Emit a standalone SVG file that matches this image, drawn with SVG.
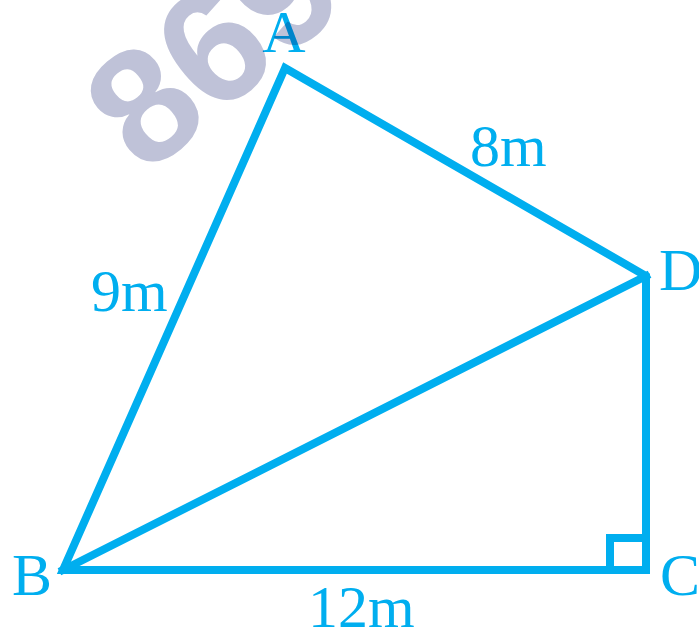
<svg xmlns="http://www.w3.org/2000/svg" width="699" height="630" viewBox="0 0 699 630">
<style>
.wm{font-family:"Liberation Sans",Arial,sans-serif;font-weight:bold;font-size:162px;fill:#BFC2D8}
.lbl{font-family:"Liberation Serif","Times New Roman",serif;font-size:60px;fill:#00AEEF}
.edge{fill:none;stroke:#00AEEF;stroke-width:8;stroke-linejoin:miter;stroke-linecap:square}
</style>
<rect width="699" height="630" fill="#ffffff"/>
<g id="watermark">
<text class="wm" x="249" y="90" text-anchor="middle" transform="rotate(-40 249 90)">869</text>
</g>
<g id="connectors">
<polygon class="edge" points="285,68 63,570 646,570 646,276"/>
<line class="edge" x1="63" y1="570" x2="646" y2="276" stroke-linecap="butt"/>
<polyline class="edge" points="610,570 610,538 646,538" stroke-linecap="butt"/>
</g>
<g id="node-A"><text class="lbl" x="284" y="52" text-anchor="middle" style="mix-blend-mode:multiply">A</text></g>
<g id="node-B"><text class="lbl" x="12" y="595">B</text></g>
<g id="node-C"><text class="lbl" x="660" y="595">C</text></g>
<g id="node-D"><text class="lbl" x="659" y="290">D</text></g>
<g id="label-AD"><text class="lbl" x="470" y="166">8m</text></g>
<g id="label-AB"><text class="lbl" x="91" y="311">9m</text></g>
<g id="label-BC"><text class="lbl" x="308" y="627">12m</text></g>
</svg>
